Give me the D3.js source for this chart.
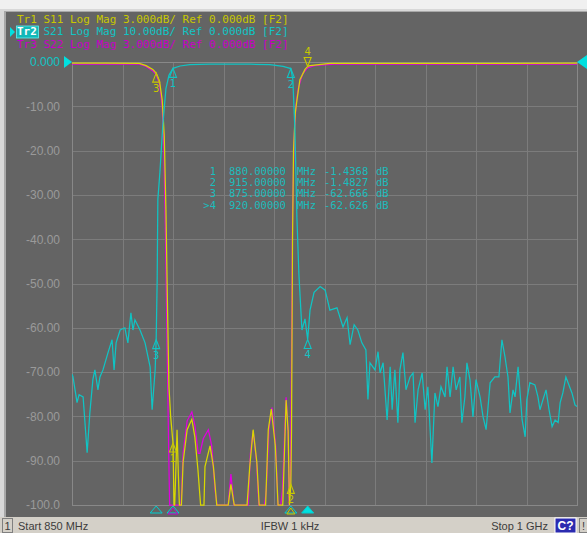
<!DOCTYPE html>
<html><head><meta charset="utf-8">
<script src="https://cdn.jsdelivr.net/npm/d3@7"></script>
<style>body{margin:0;background:#f0f0f0;}svg{display:block;}</style>
</head><body><svg id="c" width="587" height="533"></svg>
<script>
// ---- data ----
const xTicks = [850,865,880,895,910,925,940,955,970,985,1000];
const yTickValues = [0,-10,-20,-30,-40,-50,-60,-70,-80,-90,-100];
const yTickLabels = ["0.000","-10.00","-20.00","-30.00","-40.00","-50.00","-60.00","-70.00","-80.00","-90.00","-100.0"];
const headerLines = ["Tr1 S11 Log Mag 3.000dB/ Ref 0.000dB [F2]","Tr2 S21 Log Mag 10.00dB/ Ref 0.000dB [F2]","Tr3 S22 Log Mag 3.000dB/ Ref 0.000dB [F2]"];
const s21Freq = [850.0,850.3,851.5,852.1,853.3,854.5,855.3,856.2,856.8,857.7,858.3,859.2,860.7,861.9,862.5,863.1,864.3,865.7,866.6,867.5,868.1,868.7,870.2,871.7,873.2,873.8,874.7,875.0,875.3,875.5,876.1,877.0,877.9,878.8,880.0,882.1,885,891,903,908.8,912.7,915,915.6,916.2,916.8,917.4,918.3,919.2,920,920.7,921.9,923.7,925.2,926.6,928.7,930.5,931.7,932.6,933.8,934.9,936.1,937.3,937.9,938.5,940.0,940.9,941.5,942.4,943.6,944.5,945.1,945.9,946.8,947.4,948.3,949.2,950.4,951.3,951.9,952.8,954.0,954.9,955.7,956.9,957.8,958.7,959.6,960.8,961.4,962.3,963.2,964.1,965.2,965.8,966.7,967.3,968.2,969.1,970.0,971.2,972.1,973.0,974.2,975.6,976.8,977.7,978.6,979.5,980.1,981.0,981.6,982.5,983.1,983.7,984.6,985.1,986.0,987.5,988.4,989.0,989.9,990.8,991.7,992.6,993.5,994.4,995.0,995.8,996.7,997.6,998.5,999.4,1000];
const s21Db = [-70.5,-71.1,-76.9,-75.1,-75.6,-88.2,-79.2,-71.7,-69.5,-74.0,-71.1,-69.5,-65.6,-62.7,-69.5,-63.4,-60.5,-60.0,-63.4,-56.6,-60.5,-58.2,-60.5,-63.4,-68.8,-78.5,-69.5,-62.7,-49.2,-31,-25,-14,-6,-3,-1.44,-0.9,-0.6,-0.5,-0.5,-0.6,-1.0,-1.48,-4,-15,-35,-48,-60.5,-58,-62.6,-56,-52,-50.7,-51.5,-56,-55.5,-59.8,-57.7,-63.8,-59.3,-60.5,-63.4,-65.0,-76.2,-67.9,-69.5,-65.4,-70.2,-67.9,-80.8,-68.8,-78.5,-69.5,-81.4,-69.5,-65.6,-74.0,-71.1,-70.2,-81.4,-74.0,-70.2,-78.5,-73.3,-90.5,-74.7,-77.8,-73.3,-75.6,-68.8,-75.6,-68.8,-74.0,-71.1,-81.4,-75.6,-67.9,-71.7,-80.1,-71.7,-75.6,-80.1,-83.0,-72.4,-71.1,-71.1,-62.7,-66.5,-71.1,-79.2,-74.0,-75.6,-68.8,-74.7,-80.8,-84.6,-76.2,-72.4,-72.9,-75.6,-78.5,-76.2,-74.0,-78.5,-82.3,-80.8,-81.4,-76.9,-74.7,-71.1,-72.9,-74.7,-77.4,-77.8];
const s11Freq = [850,860,870,872,874,875,876,876.8,877.4,877.9,878.4,878.8,879.3,880.0,880.3,880.5,880.8,881.2,881.6,881.9,882.1,882.5,883.0,884.2,885.6,886.5,887.4,888.2,888.6,889.2,889.5,891.0,892.0,893.0,893.4,896.0,896.4,897.2,898.2,899.0,901.5,902.0,902.8,903.8,904.9,905.6,905.8,907.0,907.5,908.3,909.2,910.4,911.2,911.5,912.2,912.6,913.6,914.2,914.6,915.0,915.2,915.5,915.8,916.3,916.8,917.7,919.2,920,920.7,926.6,1000];
const s11Db = [-0.08,-0.08,-0.1,-0.25,-0.5,-0.75,-1.3,-2.6,-5,-10,-17,-22,-24,-25.8,-31,-36,-28,-24.9,-28,-36,-36,-30,-27.1,-24.9,-24.2,-25.4,-27.6,-30,-36,-30,-27.4,-26.0,-27.4,-30,-36,-36,-30.5,-28.6,-30.5,-36,-36,-30.5,-27.4,-24.9,-27.1,-30,-36,-36,-30,-24.9,-23.5,-26,-30,-36,-36,-30,-22.9,-25,-30,-28.6,-25,-12,-6,-3.5,-2.6,-1.2,-0.5,-0.3,-0.25,-0.1,-0.08];
const s22Freq = [850,870,872,874,875,876,876.8,877.3,877.8,878.3,878.7,879.0,882.0,882.4,883.0,884.2,885.6,886.5,887.5,888.0,889.0,890.5,891.5,892.5,893.1,896.0,896.4,897.2,898.1,898.7,901.8,902.3,903.0,903.8,904.8,905.5,905.8,907.2,907.7,908.5,909.4,910.5,911.2,911.5,912.0,912.5,913.6,914.2,914.5,914.9,915.2,915.5,916.0,916.5,917.2,918.5,920,922,928,1000];
const s22Db = [-0.15,-0.15,-0.3,-0.6,-0.85,-1.5,-3,-6,-12,-20,-26,-36,-36,-30,-26.5,-24.3,-23.7,-24.6,-26.5,-26.5,-25.5,-24.9,-26,-29,-36,-36,-30,-27.9,-30,-36,-36,-30,-26.5,-25.0,-27,-30.5,-36,-36,-29,-24.8,-23.4,-26,-30.5,-36,-36,-29,-22.7,-25,-36,-28,-20,-10,-5,-3,-1.8,-0.8,-0.4,-0.25,-0.15,-0.15];
const markerNames = ["1","2","3",">4"];
const markerFreq = [880, 915, 875, 920];
const markerS21 = [-1.4368, -1.4827, -62.666, -62.626];
const markerFreqText = ["880.00000","915.00000","875.00000","920.00000"];
const markerValText = ["-1.4368","-1.4827","-62.666","-62.626"];
const markerS11 = [-25.8, -28.6, -0.75, -0.3];
const statusTexts = ["Start 850 MHz","IFBW 1 kHz","Stop 1 GHz"];

// ---- colours ----
const CY="#10c4c4", YE="#c8c800", MA="#c800c8";

const svg = d3.select("#c");
const L=72,R=577,T=62,B=505;
const x = d3.scaleLinear().domain([850,1000]).range([L,R]);
const y21 = d3.scaleLinear().domain([0,-100]).range([T,B]);
const yRf = d3.scaleLinear().domain([0,-30]).range([T,B]).clamp(true);

// frame
svg.append("rect").attr("x",0).attr("y",0).attr("width",587).attr("height",533).attr("fill","#f0f0f0");
svg.append("rect").attr("x",0).attr("y",9).attr("width",587).attr("height",510).attr("fill","#d8d8d8");
svg.append("rect").attr("x",4).attr("y",11).attr("width",583).attr("height",506).attr("fill","#a8a8a8");
svg.append("rect").attr("x",6).attr("y",12).attr("width",581).attr("height",505).attr("fill","#646464");

// grid via axes
const gy = svg.append("g").attr("transform",`translate(${L},0)`)
  .call(d3.axisLeft(y21).tickValues(yTickValues).tickFormat((d,i)=>yTickLabels[i]).tickSize(-(R-L)).tickPadding(12));
gy.select(".domain").remove();
gy.selectAll("line").attr("stroke","#7c7c7c").attr("shape-rendering","crispEdges");
gy.selectAll("text").attr("fill",(d,i)=>i===0?CY:"#9a9a9a").attr("font-family","Liberation Sans, Arial, sans-serif").attr("font-size",12);
const gx = svg.append("g").attr("transform",`translate(0,${B})`)
  .call(d3.axisBottom(x).tickValues(xTicks).tickFormat("").tickSize(-(B-T)));
gx.select(".domain").remove();
gx.selectAll("line").attr("stroke","#7c7c7c").attr("shape-rendering","crispEdges");
svg.append("rect").attr("x",L).attr("y",T).attr("width",R-L).attr("height",B-T).attr("fill","none").attr("stroke","#888").attr("shape-rendering","crispEdges");

// reference triangles
svg.append("path").attr("d",`M${L-8},${T-6}L${L},${T}L${L-8},${T+6}Z`).attr("fill","#00e0e0");
svg.append("path").attr("d",`M587,${T-7}L${R},${T}L587,${T+7}Z`).attr("fill","#00e0e0");

// header
const hc=[YE,CY,MA];
svg.append("rect").attr("x",16.5).attr("y",26).attr("width",22).attr("height",12).attr("fill","#12b8b8").attr("stroke","#60f0f0").attr("stroke-width",0.8);
const hdr = svg.append("g").attr("font-family","DejaVu Sans Mono, monospace").attr("font-size",11);
headerLines.forEach((t,i)=>{
  const tx = hdr.append("text").attr("x",17).attr("y",23+i*12.3).attr("fill",hc[i]).attr("xml:space","preserve");
  if(i===1){
    tx.append("tspan").attr("fill","#ffffff").attr("font-weight","bold").text(t.slice(0,3));
    tx.append("tspan").text(t.slice(3));
  } else tx.text(t);
});
svg.append("path").attr("d","M10,27L15,32L10,37Z").attr("fill","#00e0e0");

// marker table
const tbl = svg.append("g").attr("font-family","DejaVu Sans Mono, monospace").attr("font-size",10.5).attr("fill","#1cbcbc");
markerNames.forEach((m,i)=>{
  const yy = 175 + i*11.2;
  tbl.append("text").attr("x",216).attr("y",yy).attr("text-anchor","end").text(m);
  tbl.append("text").attr("x",229).attr("y",yy).text(markerFreqText[i]);
  tbl.append("text").attr("x",297).attr("y",yy).text("MHz");
  tbl.append("text").attr("x",324).attr("y",yy).text(markerValText[i]);
  tbl.append("text").attr("x",376).attr("y",yy).text("dB");
});

// traces
svg.append("clipPath").attr("id","pc").append("rect").attr("x",L).attr("y",T-2).attr("width",R-L).attr("height",B-T+3);
const lineRf = d3.line().x(d=>x(d[0])).y(d=>yRf(d[1]));
const line21 = d3.line().x(d=>x(d[0])).y(d=>y21(d[1]));
const tr = svg.append("g").attr("clip-path","url(#pc)").attr("fill","none").attr("stroke-width",1.25);
tr.append("path").attr("d",lineRf(d3.zip(s22Freq,s22Db))).attr("stroke","#e000e0");
tr.append("path").attr("d",lineRf(d3.zip(s11Freq,s11Db))).attr("stroke","#d8d800");
tr.append("path").attr("d",line21(d3.zip(s21Freq,s21Db))).attr("stroke",CY);

// markers on traces
const mk = svg.append("g").attr("font-family","DejaVu Sans, sans-serif").attr("font-size",10);
function upMarker(px,py,col,label){
  mk.append("path").attr("d",`M${px},${py}L${px-3.5},${py+9}L${px+3.5},${py+9}Z`).attr("fill","none").attr("stroke",col).attr("stroke-width",1.1);
  mk.append("text").attr("x",px).attr("y",py+19).attr("text-anchor","middle").attr("fill",col).text(label);
}
function downMarker(px,py,col,label){
  mk.append("path").attr("d",`M${px},${py}L${px-3.5},${py-9}L${px+3.5},${py-9}Z`).attr("fill","none").attr("stroke",col).attr("stroke-width",1.1);
  mk.append("text").attr("x",px).attr("y",py-11).attr("text-anchor","middle").attr("fill",col).text(label);
}
markerFreq.forEach((f,i)=>{
  const lab = String(i+1);
  upMarker(x(f), y21(markerS21[i]), CY, lab);
  if(i===3) downMarker(x(f), yRf(markerS11[i]), YE, lab);
  else upMarker(x(f), yRf(markerS11[i]), YE, lab);
});

// bottom marker indicators
markerFreq.forEach((f,i)=>{
  const px=x(f);
  svg.append("path").attr("d",`M${px},${B+1}L${px-6},${B+8}L${px+6},${B+8}Z`)
    .attr("fill", i===3?"#00e0e0":"none").attr("stroke","#00d0d0").attr("stroke-width",1);
});
svg.append("path").attr("d",`M${x(880)},${B+3}L${x(880)-5},${B+9}L${x(880)+5},${B+9}Z`).attr("fill","none").attr("stroke",MA);
svg.append("path").attr("d",`M${x(915)},${B+3}L${x(915)-4},${B+9}L${x(915)+4},${B+9}Z`).attr("fill","none").attr("stroke",YE);

// status bar
svg.append("rect").attr("x",0).attr("y",517).attr("width",587).attr("height",16).attr("fill","#d4d0c8");
svg.append("rect").attr("x",2.5).attr("y",518.5).attr("width",10).attr("height",14).attr("fill","none").attr("stroke","#808080");
const st = svg.append("g").attr("font-family","Liberation Sans, Arial, sans-serif").attr("font-size",11).attr("fill","#3c3c3c");
st.append("text").attr("x",7.5).attr("y",530).attr("text-anchor","middle").text("1");
st.append("text").attr("x",18).attr("y",530).text(statusTexts[0]);
st.append("text").attr("x",290).attr("y",530).attr("text-anchor","middle").text(statusTexts[1]);
st.append("text").attr("x",548).attr("y",530).attr("text-anchor","end").text(statusTexts[2]);
svg.append("rect").attr("x",555).attr("y",518).attr("width",21).attr("height",15).attr("fill","#2b2bb0").attr("stroke","#ffffff");
svg.append("text").attr("x",565.5).attr("y",530).attr("text-anchor","middle").attr("fill","#ffffff").attr("font-family","Liberation Sans, Arial, sans-serif").attr("font-size",12).attr("font-weight","bold").text("C?");
svg.append("rect").attr("x",579.5).attr("y",518.5).attr("width",8).attr("height",14).attr("fill","none").attr("stroke","#808080");
svg.append("text").attr("x",583.5).attr("y",530).attr("text-anchor","middle").attr("fill","#3c3c3c").attr("font-family","Liberation Sans, Arial, sans-serif").attr("font-size",11).text("!");
</script></body></html>
